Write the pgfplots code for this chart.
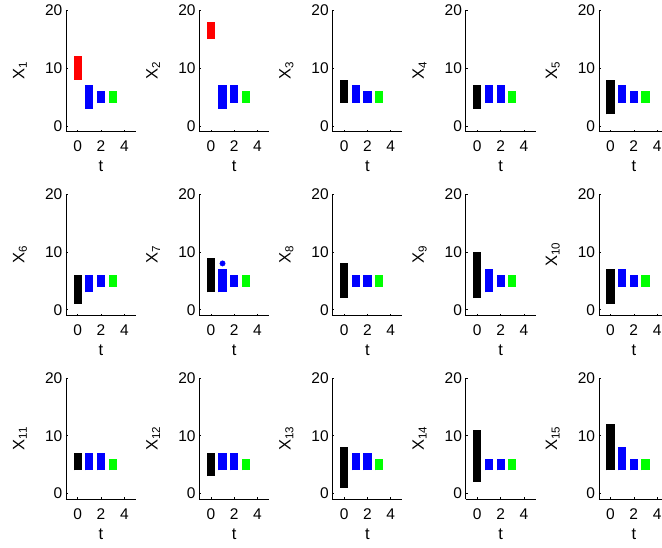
\documentclass[border=0pt]{standalone}
\usepackage{pgfplots}
\pgfplotsset{compat=1.18}
\usepackage{fontspec}
\setmainfont{Liberation Sans}
\newcommand{\rng}[4]{\addplot[draw=#1, line width=8.2pt, line cap=butt, mark=none, forget plot] coordinates {(#2,#3) (#2,#4)};}
\pgfplotsset{panel/.style={
  scale only axis, width=70pt, height=121.5pt,
  xmin=-1, xmax=5, ymin=-1, ymax=20,
  axis x line*=bottom, axis y line*=left,
  axis line style={line width=0.6pt, black},
  xtick={0,2,4}, ytick={0,10,20},
  tick align=inside, major tick length=2pt,
  tick style={line width=0.5pt, black},
  /pgf/number format/assume math mode=true,
  ticklabel style={font=\fontsize{15.5}{17}\selectfont},
  xticklabel style={anchor=base, yshift=-20pt},
  yticklabel style={inner sep=0pt, xshift=-3.5pt},
  label style={font=\fontsize{16.5}{18}\selectfont},
  xlabel={t},
  xlabel style={at={(axis description cs:0.5,-0.288)}, anchor=center},
  ylabel style={at={(axis description cs:-0.657,0.5)}, anchor=center},
  anchor=south west,
}}
\begin{document}
\begin{tikzpicture}
\useasboundingbox (0pt,-547pt) rectangle (662pt,0pt);
% Row 1
\begin{axis}[panel, at={(66pt,-131.7pt)}, ylabel={X\textsubscript{1}}]
\rng{red}{0}{8}{12}\rng{blue}{1}{3}{7}\rng{blue}{2}{4}{6}\rng{green}{3}{4}{6}
\end{axis}
\begin{axis}[panel, at={(199.2pt,-131.7pt)}, ylabel={X\textsubscript{2}}]
\rng{red}{0}{15}{18}\rng{blue}{1}{3}{7}\rng{blue}{2}{4}{7}\rng{green}{3}{4}{6}
\end{axis}
\begin{axis}[panel, at={(332.4pt,-131.7pt)}, ylabel={X\textsubscript{3}}]
\rng{black}{0}{4}{8}\rng{blue}{1}{4}{7}\rng{blue}{2}{4}{6}\rng{green}{3}{4}{6}
\end{axis}
\begin{axis}[panel, at={(465.6pt,-131.7pt)}, ylabel={X\textsubscript{4}}]
\rng{black}{0}{3}{7}\rng{blue}{1}{4}{7}\rng{blue}{2}{4}{7}\rng{green}{3}{4}{6}
\end{axis}
\begin{axis}[panel, at={(598.8pt,-131.7pt)}, ylabel={X\textsubscript{5}}]
\rng{black}{0}{2}{8}\rng{blue}{1}{4}{7}\rng{blue}{2}{4}{6}\rng{green}{3}{4}{6}
\end{axis}
% Row 2
\begin{axis}[panel, at={(66pt,-315.5pt)}, ylabel={X\textsubscript{6}}]
\rng{black}{0}{1}{6}\rng{blue}{1}{3}{6}\rng{blue}{2}{4}{6}\rng{green}{3}{4}{6}
\end{axis}
\begin{axis}[panel, at={(199.2pt,-315.5pt)}, ylabel={X\textsubscript{7}}]
\rng{black}{0}{3}{9}\rng{blue}{1}{3}{7}\rng{blue}{2}{4}{6}\rng{green}{3}{4}{6}
\addplot[only marks, mark=*, mark size=2.7pt, blue] coordinates {(1,8)};
\end{axis}
\begin{axis}[panel, at={(332.4pt,-315.5pt)}, ylabel={X\textsubscript{8}}]
\rng{black}{0}{2}{8}\rng{blue}{1}{4}{6}\rng{blue}{2}{4}{6}\rng{green}{3}{4}{6}
\end{axis}
\begin{axis}[panel, at={(465.6pt,-315.5pt)}, ylabel={X\textsubscript{9}}]
\rng{black}{0}{2}{10}\rng{blue}{1}{3}{7}\rng{blue}{2}{4}{6}\rng{green}{3}{4}{6}
\end{axis}
\begin{axis}[panel, at={(598.8pt,-315.5pt)}, ylabel={X\textsubscript{10}}]
\rng{black}{0}{1}{7}\rng{blue}{1}{4}{7}\rng{blue}{2}{4}{6}\rng{green}{3}{4}{6}
\end{axis}
% Row 3
\begin{axis}[panel, at={(66pt,-499.3pt)}, ylabel={X\textsubscript{11}}]
\rng{black}{0}{4}{7}\rng{blue}{1}{4}{7}\rng{blue}{2}{4}{7}\rng{green}{3}{4}{6}
\end{axis}
\begin{axis}[panel, at={(199.2pt,-499.3pt)}, ylabel={X\textsubscript{12}}]
\rng{black}{0}{3}{7}\rng{blue}{1}{4}{7}\rng{blue}{2}{4}{7}\rng{green}{3}{4}{6}
\end{axis}
\begin{axis}[panel, at={(332.4pt,-499.3pt)}, ylabel={X\textsubscript{13}}]
\rng{black}{0}{1}{8}\rng{blue}{1}{4}{7}\rng{blue}{2}{4}{7}\rng{green}{3}{4}{6}
\end{axis}
\begin{axis}[panel, at={(465.6pt,-499.3pt)}, ylabel={X\textsubscript{14}}]
\rng{black}{0}{2}{11}\rng{blue}{1}{4}{6}\rng{blue}{2}{4}{6}\rng{green}{3}{4}{6}
\end{axis}
\begin{axis}[panel, at={(598.8pt,-499.3pt)}, ylabel={X\textsubscript{15}}]
\rng{black}{0}{4}{12}\rng{blue}{1}{4}{8}\rng{blue}{2}{4}{6}\rng{green}{3}{4}{6}
\end{axis}
\end{tikzpicture}
\end{document}
